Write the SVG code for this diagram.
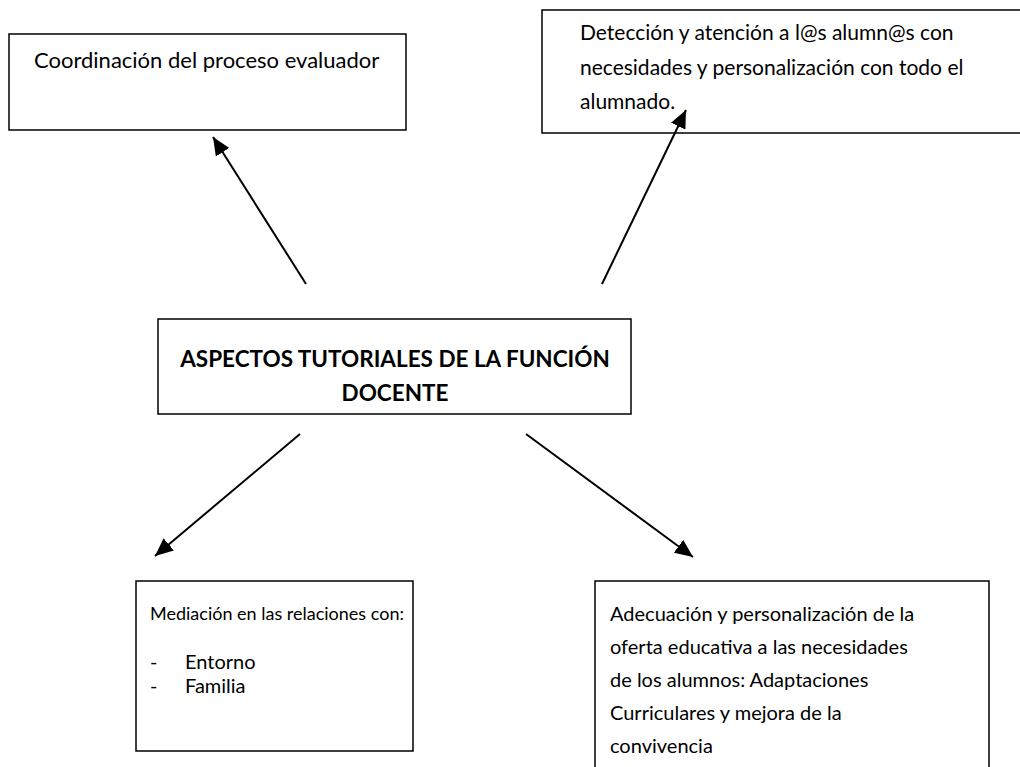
<svg xmlns="http://www.w3.org/2000/svg" width="1020" height="767" viewBox="0 0 1020 767">
<defs>
<style>
.box{fill:#fff;stroke:#000;stroke-width:1.5}
.t{font-family:Lato,"Liberation Sans",Arial,sans-serif;font-size:21px;fill:#000}
.s{font-size:20px}
.b{font-family:Lato,"Liberation Sans",Arial,sans-serif;font-size:22.5px;font-weight:bold;fill:#000;text-anchor:middle}
.c{stroke:#000;stroke-width:2;fill:none;marker-end:url(#ah)}
</style>
<marker id="ah" markerUnits="userSpaceOnUse" markerWidth="20" markerHeight="16" refX="18" refY="8" orient="auto">
<path d="M0,0 L18,8 L0,16 Z" fill="#000"/>
</marker>
</defs>
<rect width="1020" height="767" fill="#fff"/>
<g id="n1">
<rect class="box" x="9" y="34" width="397" height="96"/>
<text class="t" x="34" y="68" style="font-size:22px">Coordinación del proceso evaluador</text>
</g>
<g id="n2">
<rect class="box" x="542" y="10" width="490" height="123"/>
<text class="t" x="580" y="40">Detección y atención a l@s alumn@s con</text>
<text class="t" x="580" y="75">necesidades y personalización con todo el</text>
<text class="t" x="580" y="109">alumnado.</text>
</g>
<g id="center">
<rect class="box" x="158" y="319" width="473" height="95"/>
<text class="b" x="395" y="367">ASPECTOS TUTORIALES DE LA FUNCIÓN</text>
<text class="b" x="395" y="401">DOCENTE</text>
</g>
<g id="n3">
<rect class="box" x="136" y="581" width="277" height="170"/>
<text class="t" x="150" y="620" style="font-size:18px">Mediación en las relaciones con:</text>
<text class="t s" x="150" y="669">-</text>
<text class="t s" x="185" y="669">Entorno</text>
<text class="t s" x="150" y="693">-</text>
<text class="t s" x="185" y="693">Familia</text>
</g>
<g id="n4">
<rect class="box" x="595" y="581" width="394" height="200"/>
<text class="t s" x="610" y="621">Adecuación y personalización de la</text>
<text class="t s" x="610" y="654">oferta educativa a las necesidades</text>
<text class="t s" x="610" y="687">de los alumnos: Adaptaciones</text>
<text class="t s" x="610" y="720">Curriculares y mejora de la</text>
<text class="t s" x="610" y="753">convivencia</text>
</g>
<g id="connectors">
<line class="c" x1="306" y1="284" x2="213" y2="137"/>
<line class="c" x1="602" y1="284" x2="686" y2="110"/>
<line class="c" x1="300" y1="434" x2="155" y2="556"/>
<line class="c" x1="526" y1="434" x2="693" y2="557"/>
</g>
</svg>
